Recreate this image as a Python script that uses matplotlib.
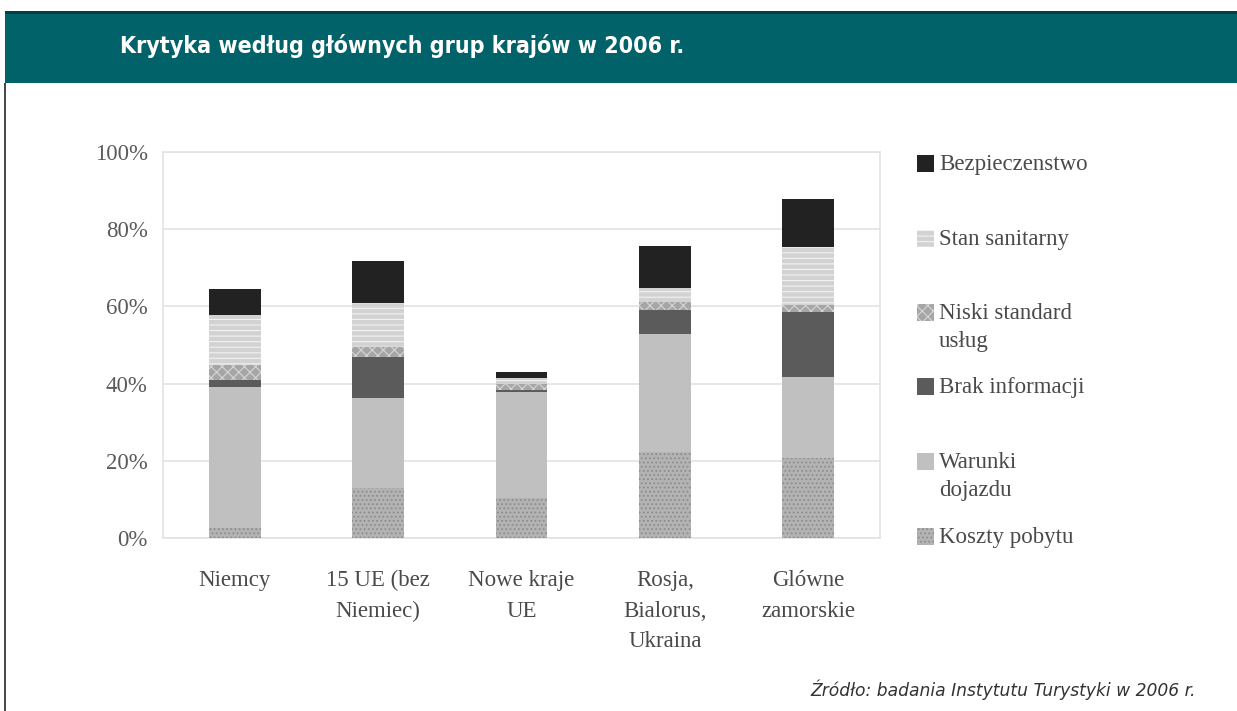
import matplotlib
matplotlib.use("Agg")
import matplotlib.pyplot as plt
from matplotlib.patches import Rectangle
import numpy as np

# ---- data -------------------------------------------------------------
categories = ["Niemcy", "15 UE (bez\nNiemiec)", "Nowe kraje\nUE",
              "Rosja,\nBialorus,\nUkraina", "Glówne\nzamorskie"]

series_names = ["Koszty pobytu", "Warunki\ndojazdu", "Brak informacji",
                "Niski standard\nusług", "Stan sanitarny", "Bezpieczenstwo"]

koszty_pobytu    = [2.6, 13.0, 10.3, 22.4, 20.6]
warunki_dojazdu  = [36.6, 23.2, 27.5, 30.4, 21.2]
brak_informacji  = [1.8, 10.8, 0.5, 6.3, 16.8]
niski_standard   = [3.8, 2.6, 1.7, 2.1, 1.8]
stan_sanitarny   = [13.0, 11.2, 1.5, 3.5, 15.1]
bezpieczenstwo   = [6.6, 11.0, 1.4, 11.0, 12.3]

y_ticks = [0, 20, 40, 60, 80, 100]

title = "Krytyka według głównych grup krajów w 2006 r."
source = "Źródło: badania Instytutu Turystyki w 2006 r."

# ---- styles -------------------------------------------------------------
styles = [
    dict(facecolor="#b3b3b3", edgecolor="#8c8c8c", hatch="...."),   # Koszty
    dict(facecolor="#c0c0c0", edgecolor="#c0c0c0", hatch=None),     # Warunki
    dict(facecolor="#5b5b5b", edgecolor="#5b5b5b", hatch=None),     # Brak
    dict(facecolor="#a6a6a6", edgecolor="#d6d6d6", hatch="xxx"),    # Niski
    dict(facecolor="#d2d2d2", edgecolor="#f2f2f2", hatch="---"),    # Stan
    dict(facecolor="#222222", edgecolor="#222222", hatch=None),     # Bezp
]

W, H = 1237, 711
fig = plt.figure(figsize=(W / 100, H / 100), dpi=100)
fig.patch.set_facecolor("white")


def fx(px):
    return px / W


def fy(py):
    return 1 - py / H


plt.rcParams["hatch.linewidth"] = 0.8
serif = ["Liberation Serif", "DejaVu Serif"]
label_color = "#4a4a4a"

# ---- header banner --------------------------------------------------------
fig.add_artist(Rectangle((fx(5), fy(83)), 1 - fx(5), fy(12) - fy(83),
                         transform=fig.transFigure, facecolor="#02626a",
                         edgecolor="none", zorder=0))
fig.add_artist(Rectangle((fx(5), fy(14)), 1 - fx(5), fy(11) - fy(14),
                         transform=fig.transFigure, facecolor="#033f44",
                         edgecolor="none", zorder=1))
# left frame line of the box
fig.add_artist(Rectangle((fx(4), 0), fx(2), fy(83),
                         transform=fig.transFigure, facecolor="#4a4a4a",
                         edgecolor="none", zorder=1))

t = fig.text(fx(120), fy(46), title, color="white", ha="left", va="center",
             fontsize=20, fontweight="bold", fontstretch="condensed",
             family=["DejaVu Sans"])
fig.canvas.draw()
bb = t.get_window_extent()
t.set_fontsize(20 * 565 / bb.width)

# ---- axes -------------------------------------------------------------------
ax = fig.add_axes([fx(163), fy(538), fx(880) - fx(163), fy(152) - fy(538)])
x = np.arange(len(categories))
stack = [koszty_pobytu, warunki_dojazdu, brak_informacji,
         niski_standard, stan_sanitarny, bezpieczenstwo]
bottom = np.zeros(len(categories))
for vals, st in zip(stack, styles):
    ax.bar(x, vals, bottom=bottom, width=0.36, facecolor=st["facecolor"],
           edgecolor=st["edgecolor"], hatch=st["hatch"], linewidth=0,
           zorder=3)
    bottom += np.array(vals)

ax.set_xlim(-0.5, len(categories) - 0.5)
ax.set_ylim(0, 100)
ax.set_yticks(y_ticks)
ax.set_yticklabels([f"{v}%" for v in y_ticks], family=serif, fontsize=16.5,
                   color="#5a5a5a")
ax.set_xticks(x)
ax.set_xticklabels(categories, family=serif, fontsize=16.5, color=label_color,
                   linespacing=1.6)
ax.tick_params(axis="both", length=0)
ax.tick_params(axis="y", pad=11)
ax.tick_params(axis="x", pad=23)
ax.grid(axis="y", color="#e3e3e3", linewidth=1.2, zorder=0)
for s in ax.spines.values():
    s.set_color("#e3e3e3")
    s.set_linewidth(1.2)

# ---- legend -----------------------------------------------------------------
legend_rows = [164, 239, 313, 387, 462, 537]
for name, st, ry in zip(series_names[::-1], styles[::-1], legend_rows):
    fig.add_artist(Rectangle((fx(917), fy(ry + 8)), fx(17), fy(ry - 9) - fy(ry + 8),
                             transform=fig.transFigure,
                             facecolor=st["facecolor"], edgecolor=st["edgecolor"],
                             hatch=st["hatch"], linewidth=0))
    fig.text(fx(939), fy(ry - 10), name, family=serif, fontsize=16.5,
             color=label_color, ha="left", va="top", linespacing=1.45)

# ---- source note ------------------------------------------------------------
s = fig.text(fx(810), fy(690), source, family=["DejaVu Sans"], style="italic",
             fontsize=11, color="#333333", ha="left", va="center")
fig.canvas.draw()
sb = s.get_window_extent()
s.set_fontsize(11 * 385 / sb.width)

fig.savefig("out.png", dpi=100)
